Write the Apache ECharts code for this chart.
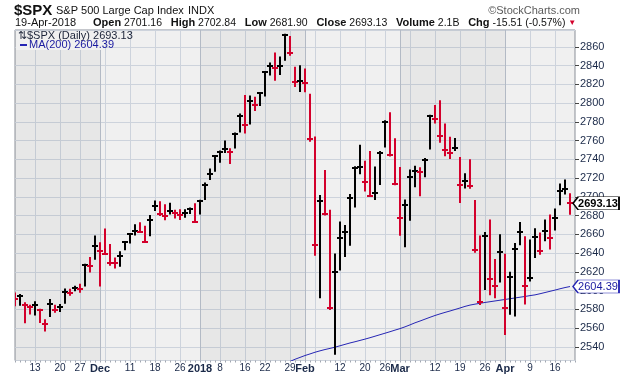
<!DOCTYPE html>
<html>
<head>
<meta charset="utf-8">
<script src="https://cdn.jsdelivr.net/npm/echarts@6/dist/echarts.min.js"></script>
<style>
    html, body { margin: 0; padding: 0; background: #fff; }
    #chart { width: 620px; height: 376px; }
</style>
</head>
<body>
<div id="chart"></div>
<script>
// trading days shown on the chart
const dates = [
    'Nov 7', 'Nov 8', 'Nov 9', 'Nov 10', 'Nov 13', 'Nov 14', 'Nov 15', 'Nov 16', 'Nov 17', 'Nov 20', 'Nov 21', 'Nov 22', 'Nov 24', 'Nov 27', 'Nov 28', 'Nov 29', 'Nov 30',
    'Dec 1', 'Dec 4', 'Dec 5', 'Dec 6', 'Dec 7', 'Dec 8', 'Dec 11', 'Dec 12', 'Dec 13', 'Dec 14', 'Dec 15', 'Dec 18', 'Dec 19', 'Dec 20', 'Dec 21', 'Dec 22', 'Dec 26', 'Dec 27', 'Dec 28', 'Dec 29',
    'Jan 2', 'Jan 3', 'Jan 4', 'Jan 5', 'Jan 8', 'Jan 9', 'Jan 10', 'Jan 11', 'Jan 12', 'Jan 16', 'Jan 17', 'Jan 18', 'Jan 19', 'Jan 22', 'Jan 23', 'Jan 24', 'Jan 25', 'Jan 26', 'Jan 29', 'Jan 30', 'Jan 31',
    'Feb 1', 'Feb 2', 'Feb 5', 'Feb 6', 'Feb 7', 'Feb 8', 'Feb 9', 'Feb 12', 'Feb 13', 'Feb 14', 'Feb 15', 'Feb 16', 'Feb 20', 'Feb 21', 'Feb 22', 'Feb 23', 'Feb 26', 'Feb 27', 'Feb 28',
    'Mar 1', 'Mar 2', 'Mar 5', 'Mar 6', 'Mar 7', 'Mar 8', 'Mar 9', 'Mar 12', 'Mar 13', 'Mar 14', 'Mar 15', 'Mar 16', 'Mar 19', 'Mar 20', 'Mar 21', 'Mar 22', 'Mar 23', 'Mar 26', 'Mar 27', 'Mar 28', 'Mar 29',
    'Apr 2', 'Apr 3', 'Apr 4', 'Apr 5', 'Apr 6', 'Apr 9', 'Apr 10', 'Apr 11', 'Apr 12', 'Apr 13', 'Apr 16', 'Apr 17', 'Apr 18', 'Apr 19'
]
const highs = [
    2597.02, 2595.47, 2586.50, 2583.81, 2587.66, 2579.66, 2568.50, 2590.09, 2583.96, 2584.64, 2601.19, 2600.94, 2604.21, 2606.41, 2627.69, 2634.89, 2657.74,
    2650.62, 2665.19, 2648.72, 2634.41, 2640.99, 2651.65, 2660.33, 2669.72, 2671.88, 2668.09, 2679.63, 2694.97, 2694.19, 2691.01, 2692.64, 2685.35, 2685.64, 2685.64, 2687.66, 2692.12,
    2695.89, 2714.37, 2729.29, 2743.45, 2748.51, 2759.14, 2750.80, 2767.56, 2787.85, 2807.54, 2807.04, 2805.83, 2810.33, 2833.03, 2842.24, 2852.97, 2848.56, 2872.87, 2870.62, 2837.75, 2839.26,
    2835.96, 2808.92, 2763.39, 2701.04, 2727.67, 2685.27, 2638.67, 2672.61, 2668.84, 2702.10, 2731.51, 2754.42, 2737.60, 2747.75, 2731.26, 2747.76, 2780.64, 2789.15, 2761.52,
    2730.89, 2696.25, 2728.09, 2732.08, 2730.60, 2740.45, 2786.57, 2796.98, 2801.90, 2777.11, 2763.03, 2761.85, 2741.38, 2724.22, 2739.14, 2695.68, 2657.67, 2661.36, 2674.78, 2632.65, 2659.07,
    2638.30, 2619.14, 2649.86, 2672.08, 2656.88, 2653.55, 2665.45, 2661.04, 2674.72, 2680.26, 2686.49, 2713.34, 2717.49, 2702.84
]
const lows = [
    2584.35, 2585.02, 2566.33, 2575.57, 2574.48, 2566.56, 2557.45, 2572.84, 2577.62, 2578.24, 2587.00, 2595.75, 2600.45, 2598.87, 2605.44, 2620.32, 2633.93,
    2605.52, 2639.03, 2627.73, 2624.75, 2626.53, 2644.10, 2651.47, 2659.78, 2662.85, 2652.01, 2659.14, 2685.92, 2680.74, 2676.11, 2682.40, 2678.13, 2676.52, 2678.91, 2682.69, 2673.61,
    2682.36, 2697.77, 2719.07, 2727.92, 2737.60, 2747.86, 2736.06, 2752.78, 2769.64, 2768.64, 2778.38, 2792.56, 2798.08, 2808.12, 2830.59, 2824.81, 2830.94, 2846.18, 2851.48, 2818.27, 2813.04,
    2812.70, 2759.97, 2638.17, 2593.07, 2681.33, 2580.56, 2532.69, 2622.45, 2637.08, 2648.87, 2689.82, 2725.11, 2706.76, 2701.29, 2697.77, 2713.74, 2753.78, 2744.22, 2713.54,
    2659.65, 2647.32, 2675.75, 2711.26, 2701.74, 2721.92, 2751.54, 2779.26, 2758.68, 2744.38, 2741.47, 2749.97, 2694.59, 2710.05, 2709.79, 2641.59, 2585.89, 2601.81, 2596.12, 2593.06, 2609.72,
    2553.80, 2575.49, 2573.61, 2649.58, 2586.27, 2610.79, 2635.78, 2639.25, 2653.83, 2645.05, 2665.16, 2692.05, 2703.63, 2681.90
]
const closes = [
    2590.64, 2594.38, 2584.62, 2582.30, 2584.84, 2578.87, 2564.62, 2585.64, 2578.85, 2582.14, 2599.03, 2597.08, 2602.42, 2601.42, 2627.04, 2626.07, 2647.58,
    2642.22, 2639.44, 2629.57, 2629.27, 2636.98, 2651.50, 2659.99, 2664.11, 2662.85, 2652.01, 2675.81, 2690.16, 2681.47, 2679.25, 2684.57, 2683.34, 2680.50, 2682.62, 2687.54, 2673.61,
    2695.81, 2713.06, 2723.99, 2743.15, 2747.71, 2751.29, 2748.23, 2767.56, 2786.24, 2776.42, 2802.56, 2798.03, 2810.30, 2832.97, 2839.13, 2837.54, 2839.25, 2872.87, 2853.53, 2822.43, 2823.81,
    2821.98, 2762.13, 2648.94, 2695.14, 2681.66, 2581.00, 2619.55, 2656.00, 2662.94, 2698.63, 2731.20, 2732.22, 2716.26, 2701.33, 2703.96, 2747.30, 2779.60, 2744.28, 2713.83,
    2677.67, 2691.25, 2720.94, 2728.12, 2726.80, 2738.97, 2786.57, 2783.02, 2765.31, 2749.48, 2747.33, 2752.01, 2712.92, 2716.94, 2711.93, 2643.69, 2588.26, 2658.55, 2612.62, 2605.00, 2640.87,
    2581.88, 2614.45, 2644.69, 2662.84, 2604.47, 2613.16, 2656.87, 2642.19, 2663.99, 2656.30, 2677.84, 2706.39, 2708.64, 2693.13
]
const prevClose = 2591.13 // close before the first bar, decides its colour

// 200 day moving average, from ma200Start on (earlier values are below the chart)
const ma200Start = 'Jan 26'
const ma200 = [
    2522.0, 2524.5, 2526.8, 2528.8, 2530.8, 2532.5, 2534.3, 2535.8, 2537.2, 2538.4, 2539.7, 2541.2, 2542.7, 2544.2, 2545.5, 2546.9, 2548.3, 2549.8, 2551.4, 2553.0,
    2554.6, 2556.2, 2557.9, 2559.5, 2561.4, 2563.5, 2565.7, 2567.6, 2569.6, 2571.6, 2573.5, 2575.2, 2576.8, 2578.3, 2579.9, 2581.5, 2583.2, 2584.6, 2585.6, 2586.5,
    2587.4, 2588.2, 2589.0, 2589.8, 2590.6, 2591.4, 2592.2, 2593.0, 2593.8, 2594.7, 2595.5, 2596.7, 2598.0, 2599.3, 2600.6, 2602.0, 2603.3, 2604.39
]

// x axis labels and grid lines
const tickDates = ['Nov 13', 'Nov 20', 'Nov 27', 'Dec 1', 'Dec 11', 'Dec 18', 'Dec 26', 'Jan 2', 'Jan 8', 'Jan 16', 'Jan 22', 'Jan 29', 'Feb 1', 'Feb 12', 'Feb 20', 'Feb 26', 'Mar 1', 'Mar 12', 'Mar 19', 'Mar 26', 'Apr 2', 'Apr 9', 'Apr 16']
const tickTexts = ['13', '20', '27', 'Dec', '11', '18', '26', '2018', '8', '16', '22', '29', 'Feb', '12', '20', '26', 'Mar', '12', '19', '26', 'Apr', '9', '16']
const weekStarts = ['Nov 13', 'Nov 20', 'Nov 27', 'Dec 4', 'Dec 11', 'Dec 18', 'Dec 26', 'Jan 2', 'Jan 8', 'Jan 16', 'Jan 22', 'Jan 29', 'Feb 5', 'Feb 12', 'Feb 20', 'Feb 26', 'Mar 5', 'Mar 12', 'Mar 19', 'Mar 26', 'Apr 2', 'Apr 9', 'Apr 16']
const monthStarts = ['Dec 1', 'Jan 2', 'Feb 1', 'Mar 1', 'Apr 2']

const yMin = 2525.5
const yMax = 2878

const RED = '#d3002b'
const BLACK = '#000000'
const NAVY = '#1b2a49'
const MA_BLUE = '#2626b4'
const FONT = 'Liberation Sans, Arial, sans-serif'
// price tag with a point on its left
const TAG_PATH = 'path://M0,6.5 L5,0 L45,0 L45,13 L5,13 Z'

const cats = dates.concat([''])  // one empty slot on the right
const labelMap = {}
tickDates.forEach((d, i) => { labelMap[d] = tickTexts[i] })
const weekSet = new Set(weekStarts)
const monthSet = new Set(monthStarts)

// [index, high, low, close, down?]
const barData = dates.map((d, i) => {
    const before = i === 0 ? prevClose : closes[i - 1]
    return [i, highs[i], lows[i], closes[i], closes[i] < before ? 1 : 0]
})
const maStartIdx = dates.indexOf(ma200Start)
const maSeries = dates.map((d, i) => (i < maStartIdx ? null : ma200[i - maStartIdx]))
const lastIdx = dates.length - 1
const lastClose = closes[lastIdx]
const lastMa = ma200[ma200.length - 1]

function renderBar(params, api) {
    const hi = api.coord([api.value(0), api.value(1)])
    const lo = api.coord([api.value(0), api.value(2)])
    const cl = api.coord([api.value(0), api.value(3)])
    const color = api.value(4) ? RED : BLACK
    return {
        type: 'group',
        children: [
            { type: 'rect', shape: { x: hi[0] - 1, y: hi[1] - 1, width: 2, height: lo[1] - hi[1] + 2 }, style: { fill: color } },
            { type: 'rect', shape: { x: cl[0] - 3, y: Math.round(cl[1]) - 1, width: 6, height: 2 }, style: { fill: color } }
        ]
    }
}

function priceTag(value, textColor, borderColor, bold) {
    return {
        symbol: TAG_PATH,
        symbolSize: [46, 13],
        symbolOffset: [26, 0],
        symbolKeepAspect: false,
        silent: true,
        itemStyle: { color: '#ffffff', borderColor: borderColor, borderWidth: 1 },
        label: {
            show: true,
            position: 'inside',
            offset: [2, 0.5],
            formatter: value.toFixed(2),
            color: textColor,
            fontSize: 11,
            fontWeight: bold ? 'bold' : 'normal',
            fontFamily: FONT
        },
        data: [{ coord: [lastIdx, value] }]
    }
}

const chart = echarts.init(document.getElementById('chart'))
const option = {
    animation: false,
    backgroundColor: '#ffffff',
    textStyle: { fontFamily: FONT },
    grid: {
        left: 15,
        right: 45,
        top: 30,
        bottom: 15.5,
        show: true,
        backgroundColor: '#f0f0f0',
        borderColor: '#8a8f98',
        borderWidth: 1
    },
    xAxis: [
        {
            type: 'category',
            data: cats,
            boundaryGap: false,
            position: 'bottom',
            axisLine: { show: false },
            axisTick: { show: true, interval: 0, length: 2, lineStyle: { color: '#a0a6b0' } },
            axisLabel: {
                interval: (i, v) => v in labelMap,
                formatter: v => (monthSet.has(v) ? '{m|' + labelMap[v] + '}' : '{d|' + labelMap[v] + '}'),
                margin: 3,
                rich: {
                    d: { fontSize: 10, color: NAVY, fontFamily: FONT },
                    m: { fontSize: 11, fontWeight: 'bold', color: NAVY, fontFamily: FONT }
                }
            },
            splitLine: {
                show: true,
                interval: (i, v) => weekSet.has(v) && !monthSet.has(v),
                lineStyle: { color: '#cdd3dc', width: 1 }
            }
        },
        {
            // month boundaries: darker line and alternating shading
            type: 'category',
            data: cats,
            boundaryGap: false,
            position: 'bottom',
            axisLine: { show: false },
            axisTick: { show: false },
            axisLabel: { show: false },
            splitLine: {
                show: true,
                interval: (i, v) => monthSet.has(v),
                lineStyle: { color: '#b3bac5', width: 1 }
            },
            splitArea: {
                show: true,
                interval: (i, v) => i === 0 || i === cats.length - 1 || monthSet.has(v),
                areaStyle: { color: ['rgba(0,0,0,0.035)', 'rgba(0,0,0,0)'] }
            }
        }
    ],
    yAxis: {
        type: 'value',
        position: 'right',
        min: yMin,
        max: yMax,
        splitNumber: 18,
        axisLine: { show: false },
        axisTick: { show: true, length: 4, lineStyle: { color: '#444' } },
        axisLabel: {
            showMinLabel: false,
            showMaxLabel: false,
            formatter: v => String(v),
            color: NAVY,
            fontSize: 11,
            margin: 5,
            fontFamily: FONT
        },
        splitLine: { lineStyle: { color: '#cdd3dc', width: 1 } }
    },
    series: [
        {
            type: 'custom',
            name: '$SPX',
            data: barData,
            encode: { x: 0, y: [1, 2, 3] },
            renderItem: renderBar,
            clip: true,
            z: 3,
            markPoint: priceTag(lastClose, '#000000', '#000000', true)
        },
        {
            type: 'line',
            name: 'MA(200)',
            data: maSeries,
            symbol: 'none',
            lineStyle: { color: MA_BLUE, width: 1 },
            z: 2,
            markPoint: priceTag(lastMa, '#1a1aa0', MA_BLUE, false)
        }
    ],
    graphic: [
        // header
        { type: 'text', x: 14, y: 11, style: { text: '$SPX', font: 'bold 15px ' + FONT, fill: '#111', verticalAlign: 'middle' } },
        { type: 'text', x: 56, y: 11, style: { text: 'S&P 500 Large Cap Index', font: '11px ' + FONT, fill: '#111', verticalAlign: 'middle' } },
        { type: 'text', x: 188, y: 11, style: { text: 'INDX', font: '11px ' + FONT, fill: '#111', verticalAlign: 'middle' } },
        { type: 'text', x: 580, y: 11, style: { text: '\u00a9StockCharts.com', font: '11px ' + FONT, fill: '#5c5c5c', align: 'right', verticalAlign: 'middle' } },
        { type: 'text', x: 15, y: 23, style: { text: '19-Apr-2018', font: '11px ' + FONT, fill: '#111', verticalAlign: 'middle' } },
        {
            type: 'text', x: 93, y: 23,
            style: {
                text: '{b|Open} 2701.16   {b|High} 2702.84   {b|Low} 2681.90   {b|Close} 2693.13   {b|Volume} 2.1B   {b|Chg} -15.51 (-0.57%) {r|\u25bc}',
                font: '10.5px ' + FONT,
                fill: '#111',
                verticalAlign: 'middle',
                rich: {
                    b: { font: 'bold 11px ' + FONT, fill: '#111' },
                    r: { font: '8px ' + FONT, fill: RED }
                }
            }
        },
        // legend box in the plot
        { type: 'rect', z: 50, shape: { x: 16, y: 31, width: 107, height: 9.5 }, style: { fill: '#f0f0f0' } },
        { type: 'rect', z: 50, shape: { x: 16, y: 40, width: 87.5, height: 10 }, style: { fill: '#f0f0f0' } },
        { type: 'text', z: 51, x: 18, y: 35.5, style: { text: '\u21c5$SPX (Daily) ' + lastClose.toFixed(2), font: '11px ' + FONT, fill: '#1b2338', verticalAlign: 'middle' } },
        { type: 'rect', z: 51, shape: { x: 20, y: 44, width: 7, height: 2 }, style: { fill: MA_BLUE } },
        { type: 'text', z: 51, x: 29, y: 45, style: { text: 'MA(200) ' + lastMa.toFixed(2), font: '11px ' + FONT, fill: '#1a1aa0', verticalAlign: 'middle' } }
    ]
}
chart.setOption(option)
</script>
</body>
</html>
